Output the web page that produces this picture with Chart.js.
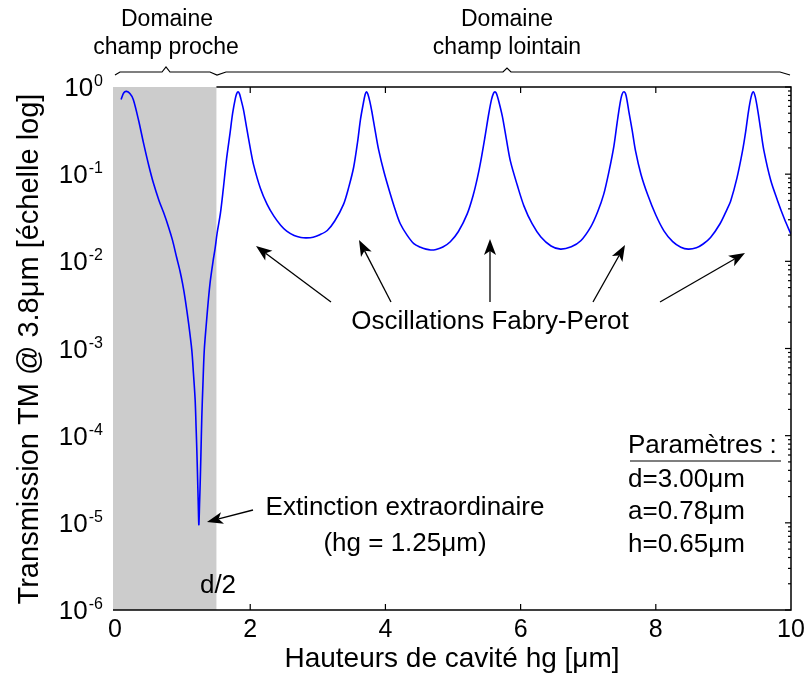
<!DOCTYPE html>
<html>
<head>
<meta charset="utf-8">
<script src="https://cdn.jsdelivr.net/npm/chart.js@4/dist/chart.umd.min.js"></script>
<style>
  html, body { margin: 0; padding: 0; background: #fff; }
  #wrap { width: 805px; height: 675px; }
</style>
</head>
<body>
<div id="wrap"><canvas id="chart" width="805" height="675"></canvas></div>
<script>
/* Transmission TM vs hauteur de cavité */

const hg = [
  0.09, 0.13, 0.17, 0.22, 0.27, 0.35, 0.42, 0.50, 0.57, 0.65, 0.72, 0.79, 0.85, 0.91, 0.96,
  1.00, 1.04, 1.09, 1.136, 1.16, 1.185, 1.20, 1.21, 1.22, 1.23, 1.24, 1.25, 1.26, 1.27, 1.284,
  1.30, 1.32, 1.35, 1.38, 1.41, 1.45, 1.48, 1.51, 1.56, 1.60, 1.65, 1.70, 1.74, 1.78, 1.80,
  1.82, 1.84, 1.86, 1.90, 1.95, 2.00, 2.05, 2.15, 2.25, 2.35, 2.45, 2.54, 2.65, 2.75, 2.83,
  2.93, 3.03, 3.14, 3.25, 3.38, 3.46, 3.53, 3.59, 3.63, 3.67, 3.70, 3.72, 3.74, 3.77, 3.80,
  3.85, 3.90, 3.98, 4.07, 4.15, 4.22, 4.32, 4.42, 4.52, 4.60, 4.67, 4.75, 4.85, 4.96, 5.08,
  5.21, 5.30, 5.36, 5.41, 5.47, 5.53, 5.57, 5.60, 5.62, 5.64, 5.67, 5.73, 5.79, 5.85, 5.95,
  6.05, 6.17, 6.30, 6.45, 6.59, 6.75, 6.89, 7.04, 7.14, 7.23, 7.31, 7.38, 7.43, 7.47, 7.50,
  7.53, 7.56, 7.60, 7.65, 7.70, 7.78, 7.88, 8.00, 8.12, 8.25, 8.37, 8.48, 8.60, 8.70, 8.81,
  8.95, 9.05, 9.11, 9.20, 9.28, 9.33, 9.37, 9.41, 9.44, 9.47, 9.51, 9.55, 9.60, 9.70, 9.80,
  9.90, 10.0
];
const transTM = [
  0.72, 0.86, 0.89, 0.84, 0.72, 0.41, 0.23, 0.125, 0.078, 0.050, 0.036, 0.025, 0.0175, 0.0112, 0.0078,
  0.0055, 0.0036, 0.0019, 0.00095, 0.00052, 0.00026, 0.00012, 0.000069, 0.000036, 0.000018, 0.0000095, 0.000016, 0.000029, 0.000058, 0.000166,
  0.00038, 0.00095, 0.0019, 0.00355, 0.0060, 0.0100, 0.0140, 0.0210, 0.036, 0.066, 0.15, 0.29, 0.50, 0.74, 0.84,
  0.88, 0.84, 0.74, 0.55, 0.33, 0.20, 0.128, 0.069, 0.045, 0.033, 0.026, 0.0222, 0.0198, 0.0188, 0.0186,
  0.0189, 0.0202, 0.0226, 0.029, 0.045, 0.072, 0.12, 0.24, 0.42, 0.63, 0.82, 0.88, 0.83, 0.68, 0.52,
  0.31, 0.19, 0.105, 0.060, 0.038, 0.027, 0.020, 0.0160, 0.0145, 0.0138, 0.0135, 0.0137, 0.0146, 0.0168, 0.022,
  0.035, 0.058, 0.090, 0.14, 0.26, 0.50, 0.72, 0.85, 0.88, 0.85, 0.72, 0.46, 0.25, 0.14, 0.075,
  0.043, 0.027, 0.0190, 0.0150, 0.0138, 0.0147, 0.0172, 0.0250, 0.037, 0.059, 0.11, 0.21, 0.40, 0.64, 0.82,
  0.88, 0.80, 0.53, 0.32, 0.185, 0.10, 0.058, 0.034, 0.0224, 0.0168, 0.0145, 0.0138, 0.0143, 0.0158, 0.0188,
  0.027, 0.039, 0.050, 0.090, 0.18, 0.31, 0.52, 0.77, 0.88, 0.78, 0.53, 0.33, 0.185, 0.085, 0.050,
  0.031, 0.0204
];

const xTicks = [0, 2, 4, 6, 8, 10];
const yTicks = [1e-6, 1e-5, 1e-4, 1e-3, 1e-2, 1e-1, 1];
const minorMults = [2, 3, 4, 5, 6, 7, 8, 9];
const nearFieldEnd = 1.5;   // d/2
const xMin = -0.03, xMax = 10;

const FONT = '"Liberation Sans", Arial, sans-serif';

function arrow(ctx, x1, y1, x2, y2) {
  // trait + tête pleine, de (x1,y1) vers (x2,y2)
  const ang = Math.atan2(y2 - y1, x2 - x1);
  const L = 16, W = 6;
  const bx = x2 - L * Math.cos(ang), by = y2 - L * Math.sin(ang);
  ctx.beginPath();
  ctx.moveTo(x1, y1);
  ctx.lineTo(bx + 4 * Math.cos(ang), by + 4 * Math.sin(ang));
  ctx.stroke();
  ctx.beginPath();
  ctx.moveTo(x2, y2);
  ctx.lineTo(bx - W * Math.sin(ang), by + W * Math.cos(ang));
  ctx.lineTo(bx + 4 * Math.cos(ang), by + 4 * Math.sin(ang));
  ctx.lineTo(bx + W * Math.sin(ang), by - W * Math.cos(ang));
  ctx.closePath();
  ctx.fill();
}

const nearFieldShade = {
  id: 'nearFieldShade',
  beforeDatasetsDraw(chart) {
    const { ctx, chartArea: a, scales: { x } } = chart;
    ctx.save();
    ctx.fillStyle = '#cccccc';
    const xr = x.getPixelForValue(nearFieldEnd);
    ctx.fillRect(a.left, a.top, xr - a.left, a.bottom - a.top);
    ctx.restore();
  }
};

const frameAndLabels = {
  id: 'frameAndLabels',
  afterDatasetsDraw(chart) {
    const { ctx, chartArea: a, scales: { x, y } } = chart;
    const xr = x.getPixelForValue(nearFieldEnd);
    ctx.save();
    ctx.strokeStyle = '#000';
    ctx.fillStyle = '#000';
    ctx.lineWidth = 1.5;

    // cadre : haut (hors zone grise), droite, bas
    ctx.beginPath();
    ctx.moveTo(xr, a.top); ctx.lineTo(a.right, a.top);
    ctx.lineTo(a.right, a.bottom); ctx.lineTo(a.left, a.bottom);
    ctx.stroke();

    // graduations x (vers l'intérieur, haut et bas)
    ctx.lineWidth = 1.2;
    x.ticks.forEach(t => {
      if (t.value <= 0 || t.value >= xMax) return;
      const px = x.getPixelForValue(t.value);
      ctx.beginPath();
      ctx.moveTo(px, a.bottom); ctx.lineTo(px, a.bottom - 6);
      ctx.moveTo(px, a.top); ctx.lineTo(px, a.top + 6);
      ctx.stroke();
    });

    // graduations log à droite
    y.ticks.forEach(t => {
      const py = y.getPixelForValue(t.value);
      ctx.beginPath();
      ctx.moveTo(a.right, py); ctx.lineTo(a.right - 6, py);
      ctx.stroke();
      if (t.value >= 1) return;
      minorMults.forEach(m => {
        const pm = y.getPixelForValue(t.value * m);
        ctx.beginPath();
        ctx.moveTo(a.right, pm); ctx.lineTo(a.right - 3, pm);
        ctx.stroke();
      });
    });

    // étiquettes y : 10^n
    y.ticks.forEach(t => {
      const py = y.getPixelForValue(t.value);
      const e = Math.round(Math.log10(t.value));
      const sup = e === 0 ? '0' : '-' + Math.abs(e);
      ctx.font = '16px ' + FONT;
      const ws = ctx.measureText(sup).width;
      ctx.textAlign = 'left';
      ctx.textBaseline = 'alphabetic';
      const right = 103;
      ctx.fillText(sup, right - ws, py - 1);
      ctx.font = '26px ' + FONT;
      ctx.textAlign = 'right';
      ctx.fillText('10', right - ws - 1, py + 9);
    });

    // étiquettes x
    ctx.font = '25px ' + FONT;
    ctx.textAlign = 'center';
    x.ticks.forEach(t => {
      ctx.fillText(String(t.value), x.getPixelForValue(t.value), 637);
    });

    // titres des axes
    ctx.font = '28px ' + FONT;
    ctx.fillText('Hauteurs de cavité hg [μm]', 452, 667);
    ctx.save();
    ctx.translate(38, 349);
    ctx.rotate(-Math.PI / 2);
    ctx.font = '29px ' + FONT;
    ctx.fillText('Transmission TM @ 3.8μm [échelle log]', 0, 0);
    ctx.restore();

    // domaines en haut
    ctx.font = '23px ' + FONT;
    ctx.fillText('Domaine', 167, 26);
    ctx.fillText('champ proche', 166, 54);
    ctx.fillText('Domaine', 507, 26);
    ctx.fillText('champ lointain', 507, 54);

    ctx.lineWidth = 1.2;
    ctx.beginPath();
    ctx.moveTo(115, 75); ctx.lineTo(120, 72); ctx.lineTo(162, 72);
    ctx.lineTo(166, 67); ctx.lineTo(170, 72); ctx.lineTo(210, 72); ctx.lineTo(217, 75);
    ctx.lineTo(226, 72); ctx.lineTo(503, 72); ctx.lineTo(507, 68); ctx.lineTo(511, 72);
    ctx.lineTo(780, 72); ctx.lineTo(790, 75);
    ctx.stroke();

    // annotations
    ctx.font = '26px ' + FONT;
    ctx.fillText('Oscillations Fabry-Perot', 490, 329);
    ctx.fillText('Extinction extraordinaire', 405, 515);
    ctx.fillText('(hg = 1.25μm)', 405, 551);
    ctx.fillText('d/2', 218, 593);

    ctx.textAlign = 'left';
    ctx.fillText('Paramètres :', 628, 453);
    ctx.fillText('d=3.00μm', 628, 487);
    ctx.fillText('a=0.78μm', 628, 519);
    ctx.fillText('h=0.65μm', 628, 552);
    ctx.beginPath();
    ctx.moveTo(630, 461); ctx.lineTo(781, 461);
    ctx.stroke();

    ctx.lineWidth = 1.3;
    arrow(ctx, 331, 302, 256, 246);
    arrow(ctx, 391, 302, 359, 240);
    arrow(ctx, 490, 302, 490, 239);
    arrow(ctx, 593, 302, 625, 245);
    arrow(ctx, 660, 302, 745, 253);
    arrow(ctx, 253, 510, 207, 522);

    ctx.restore();
  }
};

new Chart(document.getElementById('chart'), {
  type: 'line',
  data: {
    datasets: [{
      data: hg.map((v, i) => ({ x: v, y: transTM[i] })),
      borderColor: '#0000ff',
      borderWidth: 1.6,
      pointRadius: 0,
      fill: false,
      tension: 0.3
    }]
  },
  options: {
    responsive: false,
    animation: false,
    events: [],
    layout: { padding: { left: 0, right: 14, top: 87, bottom: 0 } },
    plugins: { legend: { display: false }, tooltip: { enabled: false } },
    scales: {
      x: {
        type: 'linear', min: xMin, max: xMax,
        afterBuildTicks: s => { s.ticks = xTicks.map(v => ({ value: v })); },
        afterFit: s => { s.height = 65; },
        ticks: { display: false },
        grid: { display: false, drawTicks: false },
        border: { display: false }
      },
      y: {
        type: 'logarithmic', min: 1e-6, max: 1,
        afterBuildTicks: s => { s.ticks = yTicks.map(v => ({ value: v })); },
        afterFit: s => { s.width = 113; },
        ticks: { display: false },
        grid: { display: false, drawTicks: false },
        border: { display: false }
      }
    }
  },
  plugins: [nearFieldShade, frameAndLabels]
});
</script>
</body>
</html>
